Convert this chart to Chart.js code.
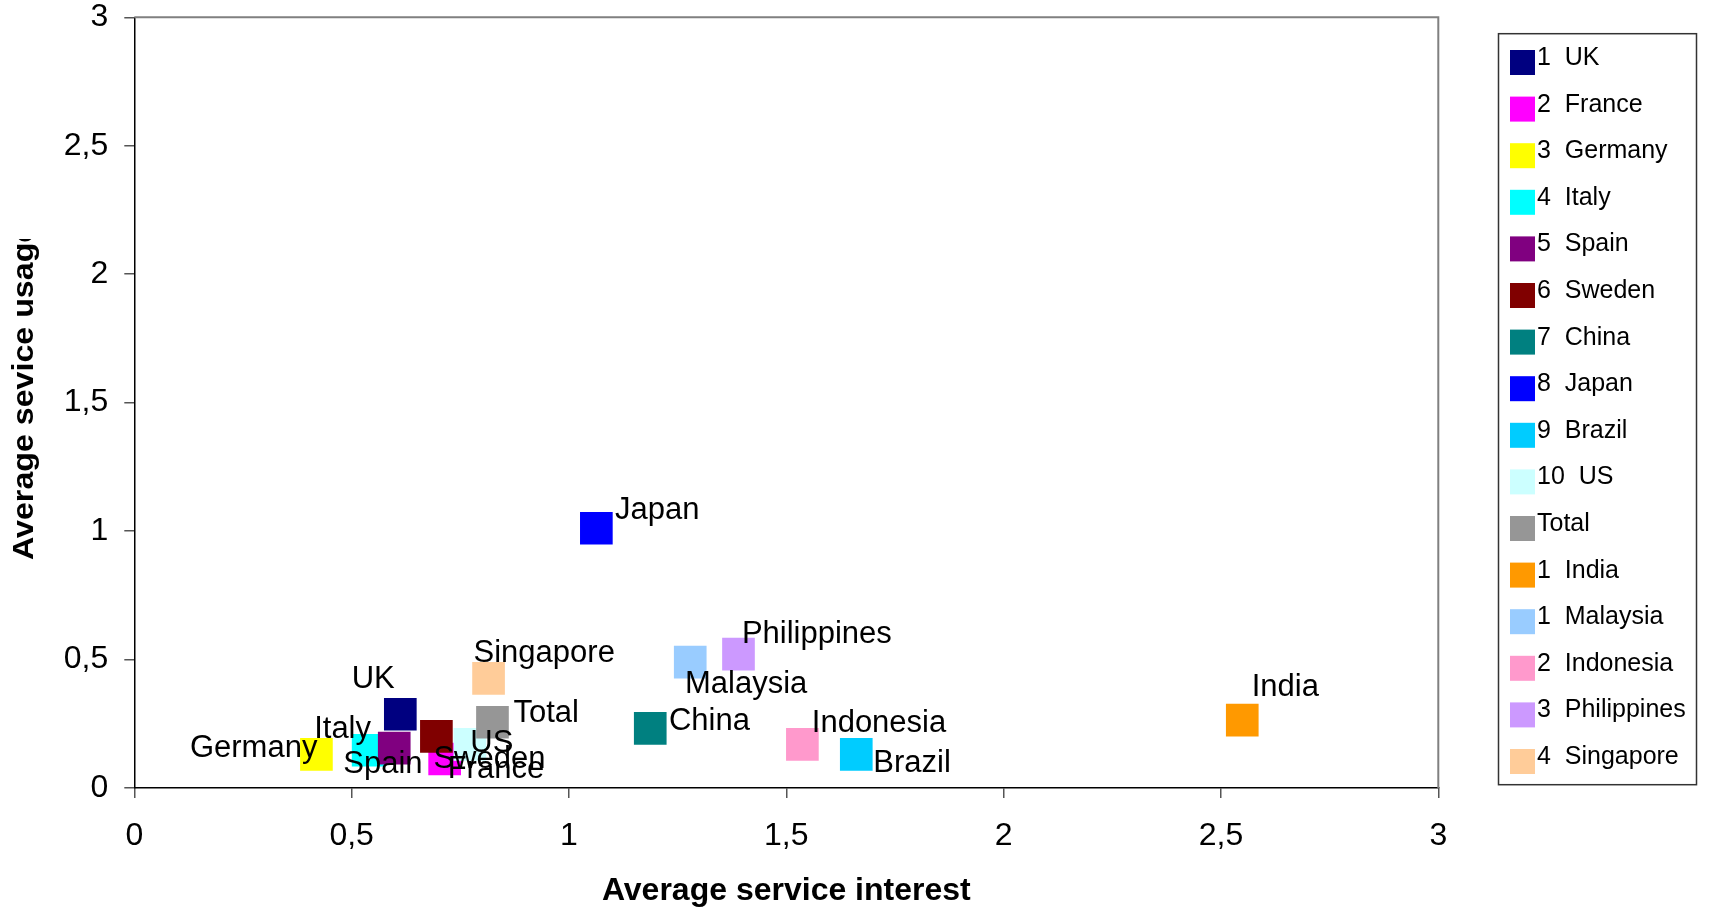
<!DOCTYPE html>
<html>
<head>
<meta charset="utf-8">
<script src="https://cdn.jsdelivr.net/npm/chart.js@4.4.1/dist/chart.umd.min.js"></script>
<style>
html,body{margin:0;padding:0;background:#fff;}
canvas{display:block;}
</style>
</head>
<body>
<canvas id="c" width="1712" height="907"></canvas>
<script>
// ---- data ----
const seriesNames = ['UK','France','Germany','Italy','Spain','Sweden','China','Japan','Brazil','US','Total','India','Malaysia','Indonesia','Philippines','Singapore'];
const legendNumbers = ['1','2','3','4','5','6','7','8','9','10','','1','1','2','3','4'];
const interestValues = [0.612,0.714,0.419,0.538,0.598,0.695,1.187,1.063,1.661,0.772,0.824,2.549,1.279,1.537,1.390,0.815];
const usageValues    = [0.287,0.113,0.131,0.147,0.155,0.201,0.232,1.011,0.131,0.170,0.256,0.264,0.490,0.170,0.521,0.427];
const xTickLabels = ['0','0,5','1','1,5','2','2,5','3'];
const yTickLabels = ['0','0,5','1','1,5','2','2,5','3'];
const xAxisTitle = 'Average service interest';
const yAxisTitle = 'Average sevice usage';

// ---- style ----
const seriesColors = ['#000080','#FF00FF','#FFFF00','#00FFFF','#800080','#800000','#008080','#0000FF','#00CCFF','#CCFFFF','#969696','#FF9900','#99CCFF','#FF99CC','#CC99FF','#FFCC99'];
const labelOffsets = [[-48.6,-26],[3,19],[-126.5,2.4],[-54,-12],[-51,24.4],[-3,32],[18.7,1.7],[18.7,-9],[17,17.7],[0.4,7.4],[21,-0.6],[9.4,-24.3],[-5.3,30.4],[9.4,-12.6],[3.4,-11],[-15,-16.6]];
const FONT = '"Liberation Sans", Arial, sans-serif';

Chart.defaults.font.family = FONT;
Chart.defaults.color = '#000';

const n = seriesNames.length;
const datasets = seriesNames.map((name, i) => ({
  label: (legendNumbers[i] ? legendNumbers[i] + '  ' : '') + name,
  data: [{x: interestValues[i], y: usageValues[i]}],
  backgroundColor: seriesColors[i],
  borderWidth: 0,
  pointStyle: 'rect',
  pointRadius: 23.1,
  pointHoverRadius: 23.1,
  order: n - i
}));

const zeroPad = () => ({left: 0, top: 0, right: 0, bottom: 0});

const frame = {
  id: 'frame',
  beforeDatasetsDraw(chart) {
    const a = chart.chartArea, ctx = chart.ctx;
    ctx.save();
    ctx.strokeStyle = '#808080';
    ctx.lineWidth = 2;
    ctx.beginPath();
    ctx.moveTo(a.left, a.top);
    ctx.lineTo(a.right, a.top);
    ctx.lineTo(a.right, a.bottom);
    ctx.stroke();
    ctx.restore();
  }
};

const dataLabels = {
  id: 'dataLabels',
  afterDatasetsDraw(chart) {
    const ctx = chart.ctx;
    ctx.save();
    ctx.font = '31px ' + FONT;
    ctx.fillStyle = '#000';
    ctx.textAlign = 'left';
    ctx.textBaseline = 'alphabetic';
    seriesNames.forEach((name, i) => {
      const pt = chart.getDatasetMeta(i).data[0];
      ctx.fillText(name, pt.x + labelOffsets[i][0], pt.y + labelOffsets[i][1]);
    });
    ctx.restore();
  }
};

const boxLegend = {
  id: 'boxLegend',
  afterDraw(chart) {
    const ctx = chart.ctx;
    ctx.save();
    ctx.strokeStyle = '#333';
    ctx.lineWidth = 1.5;
    ctx.strokeRect(1498.5, 33.7, 198, 751);
    ctx.font = '25px ' + FONT;
    ctx.textAlign = 'left';
    ctx.textBaseline = 'alphabetic';
    chart.data.datasets.forEach((ds, i) => {
      const top = 50 + i * 46.6;
      ctx.fillStyle = ds.backgroundColor;
      ctx.fillRect(1510, top, 25, 25);
      ctx.fillStyle = '#000';
      ctx.fillText(ds.label, 1537, top + 15);
    });
    ctx.restore();
  }
};

const yTitle = {
  id: 'yTitle',
  afterDraw(chart) {
    const ctx = chart.ctx;
    ctx.save();
    ctx.beginPath();
    ctx.rect(0, 239, 120, 668);
    ctx.clip();
    ctx.translate(33, 560);
    ctx.rotate(-Math.PI / 2);
    ctx.scale(1.11, 1);
    ctx.font = 'bold 29px ' + FONT;
    ctx.fillStyle = '#000';
    ctx.textAlign = 'left';
    ctx.textBaseline = 'alphabetic';
    ctx.fillText(yAxisTitle, 0, 0);
    ctx.restore();
  }
};

new Chart(document.getElementById('c'), {
  type: 'scatter',
  data: { datasets },
  options: {
    responsive: false,
    animation: false,
    events: [],
    layout: { autoPadding: false, padding: { left: 0, right: 273.7, top: 17.3, bottom: 0 } },
    plugins: {
      legend: { display: false },
      title: { display: false },
      tooltip: { enabled: false }
    },
    scales: {
      x: {
        type: 'linear', min: 0, max: 3,
        ticks: {
          stepSize: 0.5, autoSkip: false, maxRotation: 0,
          callback: (v, i) => xTickLabels[i],
          font: { size: 32, lineHeight: 1 }, color: '#000', padding: 22
        },
        grid: { drawOnChartArea: false, drawTicks: true, tickLength: 10, color: '#555', lineWidth: 1.5 },
        border: { display: true, color: '#000', width: 1.5 },
        title: { display: true, text: xAxisTitle, color: '#000', font: { size: 32, weight: 'bold', lineHeight: 1 }, padding: { top: 0, bottom: 0 } },
        afterFit: (s) => { s.height = 119; s.paddingLeft = 0; s.paddingRight = 0; s.paddingTop = 0; s.paddingBottom = 0; s.getPadding = zeroPad; }
      },
      y: {
        type: 'linear', min: 0, max: 3,
        ticks: {
          stepSize: 0.5, autoSkip: false,
          callback: (v, i) => yTickLabels[i],
          font: { size: 32, lineHeight: 1 }, color: '#000', padding: 16
        },
        grid: { drawOnChartArea: false, drawTicks: true, tickLength: 10, color: '#555', lineWidth: 1.5 },
        border: { display: true, color: '#000', width: 1.5 },
        afterFit: (s) => { s.width = 134.3; s.paddingLeft = 0; s.paddingRight = 0; s.paddingTop = 0; s.paddingBottom = 0; s.getPadding = zeroPad; }
      }
    }
  },
  plugins: [frame, dataLabels, boxLegend, yTitle]
});
</script>
</body>
</html>
